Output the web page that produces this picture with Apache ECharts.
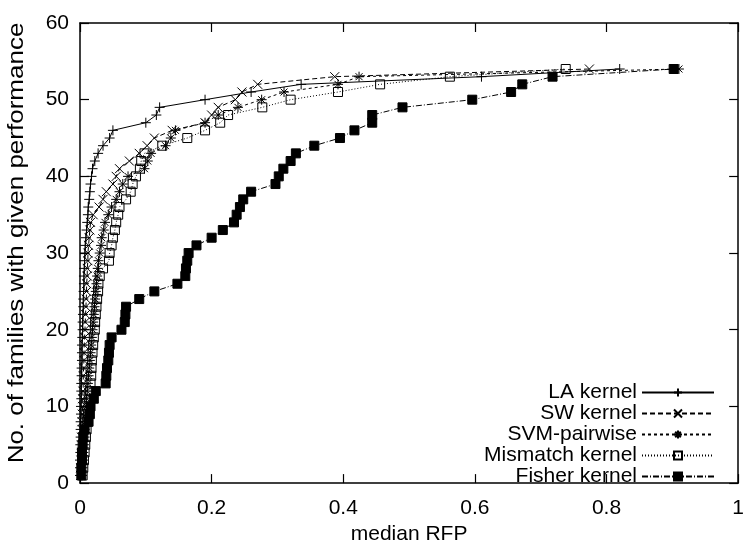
<!DOCTYPE html>
<html>
<head>
<meta charset="utf-8">
<script src="https://cdn.jsdelivr.net/npm/echarts@6/dist/echarts.min.js"></script>
<style>
  html, body { margin: 0; padding: 0; background: #fff; }
  #chart { width: 747px; height: 550px; }
</style>
</head>
<body>
<div id="chart"></div>
<script>
// median RFP per family, sorted; family count is the position (1..54)
const laKernel = [
  0.000, 0.000, 0.000, 0.0005, 0.0005, 0.001, 0.001, 0.001, 0.0015, 0.0015,
  0.002, 0.002, 0.002, 0.0025, 0.0025, 0.003, 0.003, 0.003, 0.0035, 0.004,
  0.004, 0.0045, 0.005, 0.005, 0.0055, 0.006, 0.006, 0.0065, 0.007, 0.0075,
  0.008, 0.009, 0.010, 0.011, 0.012, 0.0125, 0.014, 0.015, 0.016, 0.0175,
  0.019, 0.0225, 0.0275, 0.035, 0.045, 0.05, 0.10, 0.116, 0.121, 0.19,
  0.26, 0.336, 0.61, 0.82
];
const swKernel = [
  0.001, 0.001, 0.0015, 0.002, 0.002, 0.0025, 0.003, 0.003, 0.0035, 0.004,
  0.004, 0.0045, 0.005, 0.005, 0.0055, 0.006, 0.006, 0.0065, 0.007, 0.0075,
  0.008, 0.0085, 0.009, 0.0095, 0.010, 0.010, 0.011, 0.011, 0.012, 0.012,
  0.013, 0.014, 0.015, 0.016, 0.020, 0.029, 0.035, 0.040, 0.050, 0.055,
  0.060, 0.075, 0.090, 0.102, 0.113, 0.140, 0.19, 0.20, 0.21, 0.236,
  0.246, 0.27, 0.387, 0.774
];
const svmPairwise = [
  0.003, 0.004, 0.005, 0.005, 0.006, 0.007, 0.007, 0.008, 0.009, 0.010,
  0.010, 0.011, 0.012, 0.013, 0.014, 0.015, 0.016, 0.017, 0.018, 0.019,
  0.020, 0.021, 0.022, 0.023, 0.024, 0.025, 0.026, 0.027, 0.028, 0.030,
  0.032, 0.033, 0.036, 0.038, 0.043, 0.048, 0.055, 0.060, 0.065, 0.073,
  0.098, 0.103, 0.108, 0.13, 0.138, 0.145, 0.19, 0.21, 0.24, 0.276,
  0.31, 0.392, 0.424, 0.91
];
const mismatchKernel = [
  0.004, 0.005, 0.006, 0.007, 0.008, 0.009, 0.010, 0.011, 0.012, 0.013,
  0.014, 0.015, 0.016, 0.017, 0.0175, 0.018, 0.019, 0.020, 0.021, 0.0225,
  0.023, 0.024, 0.025, 0.026, 0.0275, 0.028, 0.030, 0.035, 0.044, 0.045,
  0.048, 0.050, 0.053, 0.055, 0.058, 0.060, 0.070, 0.077, 0.080, 0.085,
  0.091, 0.093, 0.098, 0.125, 0.163, 0.19, 0.213, 0.225, 0.277, 0.32,
  0.392, 0.456, 0.562, 0.738
];
const fisherKernel = [
  0.002, 0.002, 0.003, 0.003, 0.004, 0.005, 0.007, 0.013, 0.015, 0.016,
  0.021, 0.024, 0.039, 0.040, 0.041, 0.043, 0.044, 0.045, 0.048, 0.063,
  0.068, 0.069, 0.070, 0.090, 0.113, 0.148, 0.160, 0.161, 0.163, 0.165,
  0.177, 0.200, 0.217, 0.234, 0.238, 0.243, 0.248, 0.260, 0.297, 0.302,
  0.309, 0.320, 0.328, 0.356, 0.395, 0.417, 0.444, 0.444, 0.490, 0.596,
  0.655, 0.672, 0.718, 0.902
];
const seriesNames = ['LA kernel', 'SW kernel', 'SVM-pairwise', 'Mismatch kernel', 'Fisher kernel'];
const xTicks = [0, 0.2, 0.4, 0.6, 0.8, 1];
const yTicks = [0, 10, 20, 30, 40, 50, 60];
const xTitle = 'median RFP';
const yTitle = 'No. of families with given performance';

const FONT = '"Liberation Sans", Arial, sans-serif';

function toPoints(arr) {
    return arr.map(function (v, i) { return [v, i + 1]; });
}

const marks = [
    {symbol: 'path://M0,5L10,5M5,0L5,10', size: 10, dash: 'solid', fill: '#000'},
    {symbol: 'path://M0,0L10,10M10,0L0,10', size: 9, dash: [5, 3], fill: '#000'},
    {symbol: 'path://M0,5L10,5M5,0L5,10M1.5,1.5L8.5,8.5M8.5,1.5L1.5,8.5', size: 10, dash: [3, 3], fill: '#000'},
    {symbol: 'path://M0,0L10,0L10,10L0,10Z', size: 9, dash: [1, 2], fill: 'rgba(0,0,0,0)'},
    {symbol: 'rect', size: 9, dash: [6, 2, 1, 2], fill: '#000'}
];
const allData = [laKernel, swKernel, svmPairwise, mismatchKernel, fisherKernel];

let series = [];
for (let i in allData) {
    series.push({
        name: seriesNames[i],
        type: 'line',
        data: toPoints(allData[i]),
        symbol: marks[i].symbol,
        symbolSize: marks[i].size,
        symbolKeepAspect: true,
        lineStyle: {color: '#000', width: 1, type: marks[i].dash},
        itemStyle: {color: marks[i].fill, borderColor: '#000', borderWidth: 1},
        emphasis: {disabled: true},
        z: 2 + parseInt(i)
    });
}

function tickAxis(pos, show) {
    return {
        type: 'value', position: pos, min: 0,
        axisLine: {show: true, onZero: false, lineStyle: {color: '#000', width: 1.5}},
        axisTick: {show: true, inside: true, length: 9, lineStyle: {color: '#000', width: 1.2}},
        axisLabel: {show: show, color: '#000', fontFamily: FONT, fontSize: 21},
        splitLine: {show: false}
    };
}

let xBottom = tickAxis('bottom', true);
xBottom.max = 1; xBottom.interval = 0.2;
xBottom.name = xTitle;
xBottom.nameLocation = 'middle';
xBottom.nameGap = 40;
xBottom.nameTextStyle = {color: '#000', fontFamily: FONT, fontSize: 21};
xBottom.axisLabel.margin = 15;
xBottom.axisLabel.formatter = function (v) {
    return xTicks.indexOf(v) >= 0 ? String(v) : '';
};
let xTop = tickAxis('top', false);
xTop.max = 1; xTop.interval = 0.2;

let yLeft = tickAxis('left', true);
yLeft.max = 60; yLeft.interval = 10;
yLeft.axisLabel.margin = 11;
yLeft.axisLabel.formatter = function (v) {
    return yTicks.indexOf(v) >= 0 ? String(v) : '';
};
let yRight = tickAxis('right', false);
yRight.max = 60; yRight.interval = 10;

let myChart = echarts.init(document.getElementById('chart'));
let option = {
    animation: false,
    backgroundColor: '#fff',
    grid: {left: 80, right: 2, top: 23, bottom: 61, containLabel: false},
    legend: {
        data: seriesNames,
        orient: 'vertical',
        right: 27,
        top: 377,
        align: 'right',
        itemWidth: 72,
        itemHeight: 10,
        itemGap: 0,
        textStyle: {color: '#000', fontFamily: FONT, fontSize: 21, lineHeight: 20.5},
        selectedMode: false
    },
    graphic: [{
        type: 'text',
        x: 17, y: 243,
        rotation: Math.PI / 2,
        scaleY: 0.82,
        style: {
            text: yTitle, fill: '#000',
            font: '26px "Liberation Sans", Arial, sans-serif',
            textAlign: 'center', textVerticalAlign: 'middle'
        }
    }],
    xAxis: [xBottom, xTop],
    yAxis: [yLeft, yRight],
    series: series
};
myChart.setOption(option);
</script>
</body>
</html>
